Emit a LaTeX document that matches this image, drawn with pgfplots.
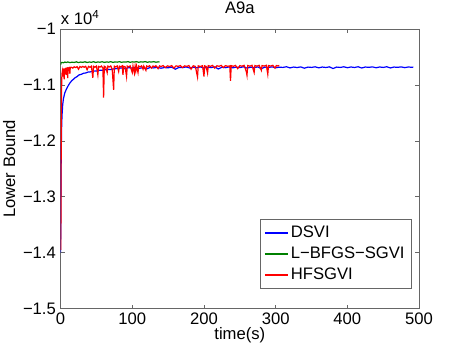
\documentclass[border=0pt]{standalone}
\usepackage{fontspec}
\setmainfont{Liberation Sans}
\usepackage{pgfplots}
\pgfplotsset{compat=1.18}

\definecolor{mblue}{rgb}{0,0,1}
\definecolor{mgreen}{rgb}{0,0.5,0}
\definecolor{mred}{rgb}{1,0,0}

\begin{document}
\begin{tikzpicture}[font=\fontsize{12.5pt}{14pt}\selectfont]
\begin{axis}[
    scale only axis,
    width=269.25pt,
    height=210pt,
    xmin=0, xmax=500,
    ymin=-15000, ymax=-10000,
    xtick={0,100,...,500},
    ytick={-15000,-14000,-13000,-12000,-11000,-10000},
    yticklabels={−1.5,−1.4,−1.3,−1.2,−1.1,−1},
    scaled y ticks=false,
    /pgf/number format/assume math mode=true,
    tick align=inside,
    major tick length=3pt,
    axis line style={black!60},
    every tick/.style={black!60},
    title={A9a},
    title style={yshift=2pt},
    xlabel={time(s)},
    ylabel={Lower Bound},
    xlabel style={yshift=5pt},
    ylabel style={yshift=-1pt},
    legend cell align=left,
    legend style={at={(0.979,0.071)}, anchor=south east, draw=black!60,
        font=\fontsize{12.5pt}{14pt}\selectfont, row sep=1.5pt,
        inner ysep=3pt},
    every axis plot/.append style={line width=0.9pt},
]
\addplot[mblue] coordinates {
(0,-14000)(0.3,-13300)(0.6,-12700)(1,-12100)(1.5,-11750)(2,-11550)(3,-11350)
(4,-11250)(5,-11190)(6,-11140)(8,-11080)(10,-11030)(12,-10985)(14,-10950)
(16,-10920)(18,-10900)(20,-10875)(23,-10852)(26,-10820)(29,-10812)(32,-10792)
(35,-10788)(38,-10772)(41,-10770)(45,-10755)(50,-10752)(55,-10738)(60,-10738)
(65,-10722)(70,-10726)(75,-10712)
(80,-10708)(85,-10696)(90,-10710)(95,-10692)(100,-10700)(105,-10688)(110,-10704)
(115,-10692)(120,-10714)(125,-10688)(130,-10697)(135,-10685)(140,-10702)(145,-10690)
(150,-10695)(155,-10682)(160,-10720)(165,-10688)(170,-10692)(175,-10680)(180,-10697)
(185,-10686)(190,-10693)(195,-10679)(200,-10699)(205,-10684)(210,-10690)(215,-10678)
(220,-10716)(225,-10685)(230,-10692)(235,-10680)(240,-10695)(245,-10683)(250,-10690)
(255,-10677)(260,-10700)(265,-10684)(270,-10691)(275,-10679)(280,-10710)(285,-10682)
(290,-10689)(295,-10678)(300,-10694)(305,-10683)(310,-10688)(315,-10676)(320,-10697)
(325,-10681)(330,-10690)(335,-10679)(340,-10702)(345,-10682)(350,-10688)(355,-10677)
(360,-10695)(365,-10681)(370,-10689)(375,-10678)(380,-10708)(385,-10682)(390,-10688)
(395,-10677)(400,-10693)(405,-10680)(410,-10689)(415,-10676)(420,-10698)(425,-10681)
(430,-10687)(435,-10678)(440,-10694)(445,-10680)(450,-10688)(455,-10676)(460,-10697)
(465,-10681)(470,-10687)(475,-10678)(480,-10692)(485,-10680)(490,-10686)(492,-10682)
};
\addlegendentry{DSVI}
\addplot[mgreen] coordinates {
(0,-10640)(0.5,-10615)(1,-10605)(2,-10598)(4,-10605)(6,-10592)(8,-10600)(10,-10590)
(13,-10602)(16,-10594)(19,-10599)(22,-10588)(25,-10601)(28,-10592)(31,-10597)
(34,-10587)(37,-10600)(40,-10591)(43,-10596)(46,-10586)(49,-10599)(52,-10590)
(55,-10595)(58,-10586)(61,-10598)(64,-10590)(67,-10594)(70,-10585)(73,-10598)
(76,-10589)(79,-10594)(82,-10585)(85,-10597)(88,-10589)(91,-10593)(94,-10584)
(97,-10597)(100,-10588)(103,-10593)(106,-10584)(109,-10596)(112,-10588)(115,-10592)
(118,-10584)(121,-10596)(124,-10588)(127,-10592)(130,-10584)(133,-10595)(136,-10588)
(138,-10591)
};
\addlegendentry{L−BFGS−SGVI}
\addplot[mred] coordinates {
(0.3,-13950)(0.6,-13000)(0.9,-12000)(1.2,-11300)(1.6,-10900)(2,-10800)(2.5,-10760)
(3,-10850)(3.5,-10740)(4,-10730)(5,-10900)(5.5,-10720)(6.5,-10710)(7.5,-10820)
(8,-10705)(9,-10698)(10,-10880)(10.5,-10700)(12,-10690)(13,-10800)(13.5,-10688)
(15,-10684)(17,-10700)(19,-10678)(21,-10690)(23,-10675)(25,-10720)(27,-10672)
(29,-10688)(31,-10670)(33,-10685)(35,-10668)(37,-10730)(39,-10670)(41,-10686)
(43,-10666)(45,-10875)(46,-10668)(48,-10684)(50,-10664)(52,-10820)(53,-10670)
(55,-10682)(57,-10664)(59,-10700)(60,-11230)(61,-10668)(63,-10682)(65,-10780)
(66,-10664)(68,-10680)(70,-10662)(72,-10720)(74,-11090)(75,-10666)(77,-10680)
(79,-10662)(81,-10760)(82,-10666)(84,-10678)(86,-10660)(87,-10820)(88,-10668)
(90,-10676)(92,-10850)(93,-10664)(95,-10680)(97,-10660)(99,-10740)(100,-10780)
(101,-10664)(103,-10790)(104,-10668)(105,-10750)(106,-10662)(108,-10780)(109,-10664)
(111,-10678)(113,-10660)(115,-10720)(116,-10664)(119,-10740)(120,-10662)(122,-10676)
(124,-10658)(127,-10700)(129,-10662)(131,-10675)(133,-10658)(136,-10710)(138,-10660)
(140,-10672)(143,-10656)(146,-10690)(149,-10660)(152,-10672)(155,-10656)(158,-10700)
(161,-10660)(164,-10670)(167,-10655)(170,-10690)(173,-10660)(176,-10670)(179,-10654)
(182,-10720)(185,-10658)(188,-10670)(191,-10860)(192,-10660)(195,-10672)(198,-10656)
(200,-10850)(201,-10660)(203,-10670)(205,-10790)(206,-10656)(209,-10668)(212,-10652)
(215,-10700)(218,-10658)(221,-10668)(224,-10652)(227,-10690)(230,-10656)(233,-10668)
(236,-10660)(237,-10930)(238,-10656)(241,-10668)(244,-10652)(247,-10710)(250,-10656)
(253,-10666)(256,-10650)(259,-10760)(260,-10830)(261,-10654)(264,-10666)(267,-10650)
(270,-10780)(271,-10654)(274,-10665)(277,-10650)(280,-10740)(281,-10654)(284,-10664)
(287,-10650)(289,-10810)(290,-10654)(293,-10664)(296,-10650)(299,-10700)(301,-10654)
(303,-10662)(305,-10652)
};
\addlegendentry{HFSGVI}
\end{axis}
\node[anchor=south west, inner sep=0pt] at (0pt,213pt) {x 10\textsuperscript{4}};
\pgfresetboundingbox
\path[use as bounding box] (-45.5pt,-29.25pt) rectangle (302.25pt,231.75pt);
\end{tikzpicture}
\end{document}
